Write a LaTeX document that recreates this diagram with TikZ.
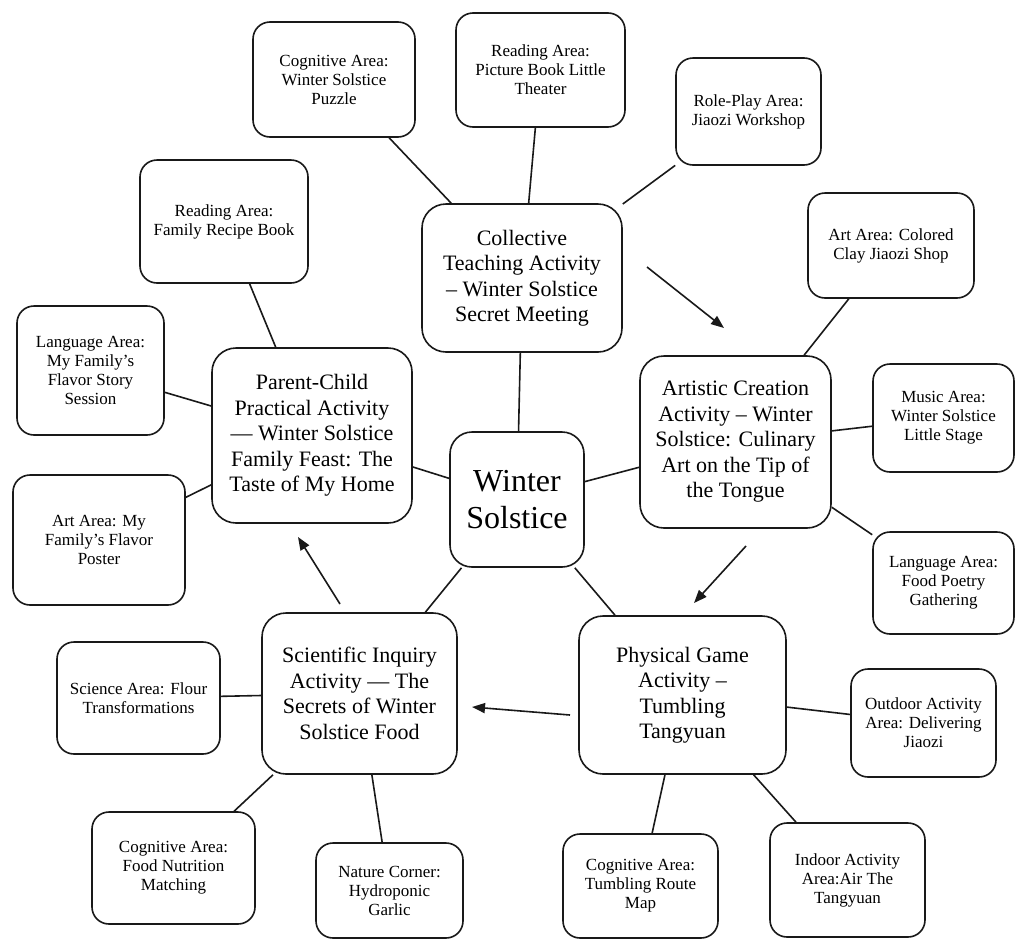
\documentclass[tikz,border=0pt]{standalone}
\usepackage{fontspec}
\setmainfont{Liberation Serif}
\usetikzlibrary{arrows.meta}
\begin{document}
\begin{tikzpicture}[x=1pt,y=-1pt,
  box/.style={draw=black!90, line width=1.6pt, rounded corners=17pt, fill=white,
    align=center, inner sep=0pt, font=\fontsize{17}{19}\selectfont},
  bigbox/.style={box, rounded corners=24pt, font=\fontsize{22}{25.5}\selectfont},
  hub/.style={box, rounded corners=22pt, font=\fontsize{32}{37}\selectfont},
  conn/.style={draw=black!90, line width=1.6pt},
  flow/.style={draw=black!90, line width=1.6pt, -{Triangle[length=13pt,width=10pt]}}]
\fill[white] (0,0) rectangle (1016,940);
\useasboundingbox (0,0) rectangle (1016,940);

% hub
\node[hub, minimum width=134pt, minimum height=135pt] (win) at (517,499.5) {Winter\\Solstice};

% activities
\node[bigbox, minimum width=200pt, minimum height=148pt] (coll) at (522,278) {Collective\\Teaching Activity\\– Winter Solstice\\Secret Meeting};
\node[bigbox, minimum width=200pt, minimum height=175pt] (parent) at (312,435.5) {Parent-Child\\Practical Activity\\— Winter Solstice\\Family Feast: The\\Taste of My Home};
\node[bigbox, minimum width=191pt, minimum height=172pt] (art) at (735.5,442) {Artistic Creation\\Activity – Winter\\Solstice: Culinary\\Art on the Tip of\\the Tongue};
\node[bigbox, minimum width=195pt, minimum height=161pt] (sci) at (359.5,693.5) {Scientific Inquiry\\Activity — The\\Secrets of Winter\\Solstice Food};
\node[bigbox, minimum width=207pt, minimum height=158pt] (phys) at (682.5,695) {Physical Game\\Activity –\\Tumbling\\Tangyuan};

% areas
\node[box, minimum width=162pt, minimum height=115pt] (puz) at (334,79.5) {Cognitive Area:\\Winter Solstice\\Puzzle};
\node[box, minimum width=169pt, minimum height=114pt] (pic) at (540.5,70) {Reading Area:\\Picture Book Little\\Theater};
\node[box, minimum width=145pt, minimum height=107pt] (role) at (748.5,111.5) {Role-Play Area:\\Jiaozi Workshop};
\node[box, minimum width=168pt, minimum height=123pt] (recipe) at (224,221.5) {Reading Area:\\Family Recipe Book};
\node[box, minimum width=166pt, minimum height=105pt] (clay) at (891,245.5) {Art Area: Colored\\Clay Jiaozi Shop};
\node[box, minimum width=147pt, minimum height=129pt] (lang1) at (90.5,370.5) {Language Area:\\My Family’s\\Flavor Story\\Session};
\node[box, minimum width=141pt, minimum height=108pt] (music) at (943.5,418) {Music Area:\\Winter Solstice\\Little Stage};
\node[box, minimum width=141pt, minimum height=102pt] (poetry) at (943.5,583) {Language Area:\\Food Poetry\\Gathering};
\node[box, minimum width=172pt, minimum height=130pt] (poster) at (99,540) {Art Area: My\\Family’s Flavor\\Poster};
\node[box, minimum width=163pt, minimum height=112pt] (flour) at (138.5,698) {Science Area: Flour\\Transformations};
\node[box, minimum width=163pt, minimum height=112pt] (nutr) at (173.5,868) {Cognitive Area:\\Food Nutrition\\Matching};
\node[box, minimum width=147pt, minimum height=95pt] (nature) at (389.5,890.5) {Nature Corner:\\Hydroponic\\Garlic};
\node[box, minimum width=145pt, minimum height=108pt] (outdoor) at (923.5,723) {Outdoor Activity\\Area: Delivering\\Jiaozi};
\node[box, minimum width=155pt, minimum height=104pt] (route) at (640.5,886) {Cognitive Area:\\Tumbling Route\\Map};
\node[box, minimum width=155pt, minimum height=114pt] (indoor) at (847.5,880) {Indoor Activity\\Area:Air The\\Tangyuan};

% connectors
\draw[conn] (puz) -- (coll);
\draw[conn] (pic) -- (coll);
\draw[conn] (role) -- (coll);
\draw[conn] (recipe) -- (parent);
\draw[conn] (lang1) -- (parent);
\draw[conn] (poster) -- (parent);
\draw[conn] (coll) -- (win);
\draw[conn] (parent) -- (win);
\draw[conn] (win) -- (art);
\draw[conn] (win) -- (sci);
\draw[conn] (win) -- (phys);
\draw[conn] (clay) -- (art);
\draw[conn] (music) -- (art);
\draw[conn] (poetry) -- (art);
\draw[conn] (flour) -- (sci);
\draw[conn] (nutr) -- (sci);
\draw[conn] (nature) -- (sci);
\draw[conn] (outdoor) -- (phys);
\draw[conn] (route) -- (phys);
\draw[conn] (indoor) -- (phys);

% flow arrows
\coordinate (a1s) at (647,267);
\coordinate (a1e) at (724,328);
\coordinate (a2s) at (746,546);
\coordinate (a2e) at (694,603);
\coordinate (a3s) at (570,715);
\coordinate (a3e) at (472,707);
\coordinate (a4s) at (340,604);
\coordinate (a4e) at (298,537);
\draw[flow] (a1s) -- (a1e);
\draw[flow] (a2s) -- (a2e);
\draw[flow] (a3s) -- (a3e);
\draw[flow] (a4s) -- (a4e);
\end{tikzpicture}
\end{document}
